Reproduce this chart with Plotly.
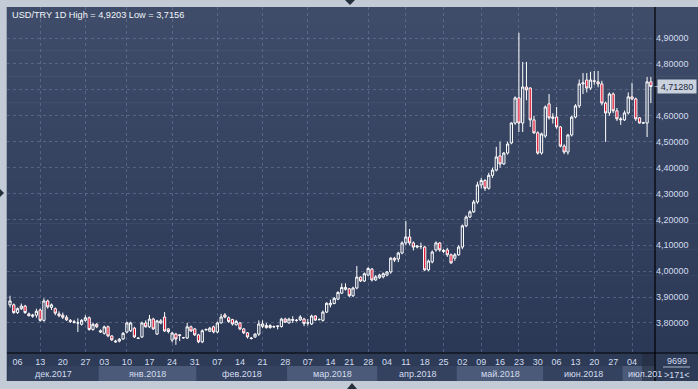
import plotly.graph_objects as go

# ---------------- data ----------------
opens = [3.870, 3.870, 3.840, 3.855, 3.865, 3.835, 3.826, 3.830, 3.850, 3.810,
         3.885, 3.860, 3.855, 3.835, 3.830, 3.822, 3.810, 3.805, 3.800, 3.795,
         3.810, 3.820, 3.775, 3.795, 3.770, 3.760, 3.785, 3.750, 3.730, 3.730,
         3.738, 3.765, 3.770, 3.780, 3.742, 3.746, 3.800, 3.785, 3.815, 3.757,
         3.800, 3.823, 3.777, 3.734, 3.757, 3.754, 3.743, 3.742, 3.785, 3.777,
         3.754, 3.727, 3.773, 3.768, 3.785, 3.765, 3.800, 3.831, 3.820, 3.813,
         3.793, 3.800, 3.777, 3.762, 3.742, 3.746, 3.757, 3.787, 3.790, 3.782,
         3.785, 3.787, 3.786, 3.815, 3.800, 3.810, 3.810, 3.812, 3.815, 3.800,
         3.796, 3.827, 3.813, 3.810, 3.842, 3.870, 3.875, 3.892, 3.915, 3.930,
         3.932, 3.905, 3.935, 3.977, 3.962, 3.985, 4.008, 3.966, 3.975, 3.978,
         3.985, 3.997, 4.050, 4.047, 4.070, 4.109, 4.132, 4.109, 4.093, 4.095,
         4.093, 4.005, 4.036, 4.082, 4.109, 4.076, 4.082, 4.063, 4.050, 4.063,
         4.093, 4.175, 4.209, 4.229, 4.267, 4.333, 4.350, 4.320, 4.370, 4.390,
         4.445, 4.414, 4.456, 4.495, 4.572, 4.669, 4.572, 4.711, 4.707, 4.584,
         4.534, 4.456, 4.522, 4.646, 4.590, 4.595, 4.557, 4.483, 4.460, 4.526,
         4.595, 4.638, 4.723, 4.738, 4.707, 4.735, 4.731, 4.723, 4.649, 4.611,
         4.684, 4.619, 4.588, 4.584, 4.611, 4.673, 4.665, 4.592, 4.573, 4.572,
         4.731]
highs = [3.905, 3.875, 3.860, 3.875, 3.870, 3.840, 3.835, 3.855, 3.855, 3.895,
         3.890, 3.875, 3.860, 3.845, 3.840, 3.830, 3.815, 3.812, 3.818, 3.815,
         3.830, 3.825, 3.800, 3.800, 3.775, 3.790, 3.790, 3.752, 3.735, 3.742,
         3.765, 3.805, 3.805, 3.785, 3.745, 3.805, 3.810, 3.831, 3.820, 3.812,
         3.815, 3.842, 3.780, 3.765, 3.762, 3.757, 3.746, 3.800, 3.790, 3.780,
         3.758, 3.775, 3.778, 3.785, 3.790, 3.805, 3.835, 3.838, 3.825, 3.816,
         3.812, 3.803, 3.780, 3.765, 3.746, 3.760, 3.810, 3.810, 3.800, 3.795,
         3.790, 3.790, 3.820, 3.820, 3.820, 3.826, 3.815, 3.830, 3.820, 3.815,
         3.832, 3.830, 3.818, 3.848, 3.880, 3.890, 3.900, 3.922, 3.953, 3.953,
         3.935, 3.940, 4.020, 3.980, 3.995, 4.015, 4.012, 3.985, 3.990, 3.995,
         4.000, 4.055, 4.055, 4.075, 4.115, 4.194, 4.163, 4.115, 4.100, 4.110,
         4.098, 4.045, 4.080, 4.115, 4.112, 4.085, 4.090, 4.068, 4.070, 4.100,
         4.180, 4.215, 4.235, 4.275, 4.345, 4.360, 4.355, 4.380, 4.400, 4.480,
         4.500, 4.460, 4.500, 4.575, 4.675, 4.9203, 4.808, 4.808, 4.710, 4.600,
         4.540, 4.535, 4.640, 4.684, 4.610, 4.634, 4.560, 4.490, 4.530, 4.600,
         4.645, 4.740, 4.765, 4.765, 4.770, 4.773, 4.773, 4.735, 4.655, 4.690,
         4.690, 4.630, 4.595, 4.620, 4.690, 4.727, 4.670, 4.595, 4.575, 4.750,
         4.750]
lows = [3.860, 3.835, 3.835, 3.850, 3.835, 3.825, 3.820, 3.820, 3.805, 3.805,
        3.855, 3.850, 3.830, 3.822, 3.815, 3.808, 3.800, 3.798, 3.765, 3.790,
        3.805, 3.770, 3.770, 3.780, 3.762, 3.755, 3.745, 3.730, 3.725, 3.725,
        3.735, 3.760, 3.765, 3.742, 3.738, 3.742, 3.782, 3.780, 3.773, 3.754,
        3.795, 3.765, 3.760, 3.725, 3.7156, 3.730, 3.740, 3.738, 3.765, 3.750,
        3.722, 3.722, 3.770, 3.765, 3.760, 3.760, 3.798, 3.818, 3.800, 3.790,
        3.790, 3.772, 3.757, 3.740, 3.736, 3.742, 3.750, 3.780, 3.778, 3.778,
        3.780, 3.775, 3.782, 3.800, 3.798, 3.800, 3.805, 3.808, 3.788, 3.790,
        3.792, 3.808, 3.810, 3.805, 3.838, 3.860, 3.872, 3.888, 3.912, 3.925,
        3.900, 3.900, 3.930, 3.958, 3.958, 3.980, 3.960, 3.962, 3.970, 3.972,
        3.980, 3.990, 4.035, 4.035, 4.065, 4.100, 4.100, 4.080, 4.088, 4.085,
        4.000, 4.000, 4.030, 4.075, 4.075, 4.070, 4.055, 4.028, 4.040, 4.060,
        4.085, 4.170, 4.205, 4.225, 4.260, 4.320, 4.310, 4.315, 4.360, 4.385,
        4.400, 4.410, 4.450, 4.490, 4.565, 4.537, 4.537, 4.660, 4.557, 4.530,
        4.450, 4.450, 4.515, 4.585, 4.570, 4.550, 4.478, 4.452, 4.450, 4.520,
        4.590, 4.630, 4.684, 4.690, 4.700, 4.720, 4.710, 4.640, 4.499, 4.600,
        4.610, 4.580, 4.565, 4.580, 4.605, 4.660, 4.580, 4.570, 4.570, 4.518,
        4.649]
closes = [3.885, 3.840, 3.855, 3.865, 3.840, 3.828, 3.830, 3.845, 3.810, 3.885,
          3.862, 3.870, 3.838, 3.828, 3.822, 3.812, 3.806, 3.802, 3.800, 3.810,
          3.820, 3.775, 3.795, 3.785, 3.765, 3.785, 3.750, 3.735, 3.727, 3.737,
          3.760, 3.800, 3.800, 3.746, 3.740, 3.800, 3.785, 3.815, 3.777, 3.808,
          3.808, 3.769, 3.767, 3.761, 3.738, 3.752, 3.743, 3.785, 3.769, 3.754,
          3.727, 3.770, 3.775, 3.780, 3.765, 3.800, 3.823, 3.823, 3.806, 3.796,
          3.806, 3.777, 3.762, 3.746, 3.740, 3.757, 3.796, 3.796, 3.782, 3.790,
          3.786, 3.788, 3.815, 3.803, 3.815, 3.813, 3.810, 3.823, 3.798, 3.800,
          3.827, 3.811, 3.813, 3.842, 3.876, 3.876, 3.895, 3.918, 3.937, 3.937,
          3.905, 3.935, 3.977, 3.962, 3.990, 4.010, 3.966, 3.978, 3.985, 3.990,
          3.997, 4.050, 4.043, 4.070, 4.109, 4.132, 4.109, 4.093, 4.097, 4.095,
          4.005, 4.039, 4.074, 4.109, 4.082, 4.080, 4.063, 4.032, 4.063, 4.093,
          4.175, 4.209, 4.229, 4.267, 4.333, 4.350, 4.320, 4.370, 4.390, 4.441,
          4.414, 4.456, 4.491, 4.572, 4.669, 4.572, 4.711, 4.700, 4.584, 4.534,
          4.456, 4.530, 4.634, 4.592, 4.595, 4.557, 4.483, 4.460, 4.526, 4.595,
          4.638, 4.723, 4.727, 4.707, 4.738, 4.733, 4.723, 4.649, 4.611, 4.684,
          4.619, 4.588, 4.585, 4.611, 4.673, 4.665, 4.588, 4.572, 4.572, 4.731,
          4.7128]
bar_index = list(range(len(closes)))

day_ticks = [2, 8, 14, 20, 25, 31, 37, 43, 49, 55, 61, 67, 73, 79, 85,
             90, 95, 100, 105, 110, 115, 120, 125, 130, 135, 140, 145, 150, 155, 160, 165]
day_labels = ["06", "13", "20", "27", "03", "10", "17", "24", "31", "07", "14", "21", "28",
              "07", "14", "21", "28", "04", "11", "18", "25", "02", "09", "16", "23", "30",
              "06", "13", "20", "27", "04"]
grid_ticks = [8, 20, 31, 43, 55, 67, 79, 95, 105, 115, 125, 135, 145, 155, 165]
month_labels = ["дек.2017", "янв.2018", "фев.2018", "мар.2018", "апр.2018",
                "май.2018", "июн.2018", "июл.201"]
month_start = [0, 24, 50, 74, 98, 119, 142, 163]
price_ticks = [3.8, 3.9, 4.0, 4.1, 4.2, 4.3, 4.4, 4.5, 4.6, 4.7, 4.8, 4.9]
last_price = closes[-1]
title_text = "USD/TRY 1D High = 4,9203 Low = 3,7156"


def fmt(v):
    return f"{v:.5f}".replace(".", ",")


# the 4,70000 label sits under the current-price box in the reference
price_text = ["" if abs(v - last_price) < 0.03 else fmt(v) for v in price_ticks]

# ---------------- layout geometry ----------------
W, H = 698, 389
L, R, T, B = 7, 655, 7, 353
XMIN, XMAX = -0.8, 171.1
YMIN, YMAX = 3.684, 5.020


def px(x):
    return (x - L) / (R - L)


def py(y):
    return (B - y) / (B - T)


def ix(i):  # bar index -> paper x
    return (i - XMIN) / (XMAX - XMIN)


FONT = "Liberation Sans, Arial, sans-serif"
TXT = "#d3ddef"

fig = go.Figure()
fig.add_trace(go.Candlestick(
    x=bar_index, open=opens, high=highs, low=lows, close=closes,
    increasing=dict(line=dict(color="#ffffff", width=1), fillcolor="rgba(0,0,0,0)"),
    decreasing=dict(line=dict(color="#ffffff", width=1), fillcolor="#e0102e"),
    whiskerwidth=0, showlegend=False, hoverinfo="skip",
))

shapes = []
# background gradient (plot + right axis panel)
top_c = (63, 76, 105)
bot_c = (43, 57, 86)
N = 40
for k in range(N):
    t = k / (N - 1)
    c = tuple(round(top_c[j] + (bot_c[j] - top_c[j]) * t) for j in range(3))
    y0 = T + k * (B - T) / N
    y1 = T + (k + 1) * (B - T) / N + 0.6
    shapes.append(dict(type="rect", xref="paper", yref="paper", layer="below",
                       x0=px(L), x1=px(W + 2), y0=py(y1), y1=py(y0),
                       fillcolor="rgb(%d,%d,%d)" % c, line=dict(width=0)))
# date panel rows
shapes.append(dict(type="rect", xref="paper", yref="paper", layer="below",
                   x0=px(L), x1=px(W + 2), y0=py(381), y1=py(B),
                   fillcolor="#2d3b57", line=dict(width=0)))
for m in range(len(month_start)):
    a = month_start[m] - 0.5
    b = (month_start[m + 1] - 0.5) if m + 1 < len(month_start) else XMAX
    col = "#34425f" if m % 2 == 0 else "#4b5a78"
    shapes.append(dict(type="rect", xref="paper", yref="paper", layer="below",
                       x0=max(ix(a), 0), x1=min(ix(b), 1), y0=py(381), y1=py(366),
                       fillcolor=col, line=dict(width=0)))
# dark block at the end of the date panel
shapes.append(dict(type="rect", xref="paper", yref="paper", layer="above",
                   x0=px(642), x1=px(R), y0=py(381), y1=py(B),
                   fillcolor="rgba(35,45,62,0.6)", line=dict(width=0)))
# axis frame lines
shapes.append(dict(type="line", xref="paper", yref="paper", x0=px(R), x1=px(R),
                   y0=py(381), y1=py(T), line=dict(color="#000000", width=1.2)))
shapes.append(dict(type="line", xref="paper", yref="paper", x0=px(L), x1=px(W + 2),
                   y0=py(B), y1=py(B), line=dict(color="#000000", width=1.2)))
# separator in corner panel
shapes.append(dict(type="line", xref="paper", yref="paper", x0=px(663), x1=px(690),
                   y0=py(367), y1=py(367), line=dict(color="#aab6ca", width=1)))
# left border line
shapes.append(dict(type="line", xref="paper", yref="paper", x0=px(L - 0.5), x1=px(L - 0.5),
                   y0=py(381), y1=py(T), line=dict(color="#9aa4b2", width=1)))
# small triangle markers on the frame
shapes.append(dict(type="path", xref="paper", yref="paper",
                   path="M %f %f L %f %f L %f %f Z" % (px(345), py(0), px(355), py(0), px(350), py(5)),
                   fillcolor="#25303f", line=dict(width=0)))
shapes.append(dict(type="path", xref="paper", yref="paper",
                   path="M %f %f L %f %f L %f %f Z" % (px(0), py(189), px(0), py(197), px(4), py(193)),
                   fillcolor="#25303f", line=dict(width=0)))
shapes.append(dict(type="path", xref="paper", yref="paper",
                   path="M %f %f L %f %f L %f %f Z" % (px(347), py(389), px(357), py(389), px(352), py(383)),
                   fillcolor="#25303f", line=dict(width=0)))
# pointer of the current price label
d = 6 / 259 * 0.1
shapes.append(dict(type="path", xref="paper", yref="y",
                   path="M %f %f L %f %f L %f %f Z" % (px(658), last_price + d, px(653.5), last_price,
                                                     px(658), last_price - d),
                   fillcolor="#c9d1dd", line=dict(width=0)))

annotations = [
    dict(xref="paper", yref="paper", x=px(10), y=py(15), xanchor="left", yanchor="middle",
         text=title_text, showarrow=False, font=dict(family=FONT, size=9.2, color="#f2f5fa")),
    dict(xref="paper", yref="y", x=px(676.5), y=last_price, xanchor="center", yanchor="middle",
         text=fmt(last_price), showarrow=False, bgcolor="#c9d1dd",
         width=36, height=11, borderpad=1,
         font=dict(family=FONT, size=9, color="#1e2940")),
    dict(xref="paper", yref="paper", x=px(676.5), y=py(361), xanchor="center", yanchor="middle",
         text="9699", showarrow=False, font=dict(family=FONT, size=9, color=TXT)),
    dict(xref="paper", yref="paper", x=px(676.5), y=py(375), xanchor="center", yanchor="middle",
         text=">171<", showarrow=False, font=dict(family=FONT, size=9, color=TXT)),
]
for m, lab in enumerate(month_labels):
    a = month_start[m] - 0.5
    if m + 1 < len(month_start):
        b = month_start[m + 1] - 0.5
        annotations.append(dict(xref="paper", yref="paper", x=(ix(a) + ix(b)) / 2, y=py(374),
                                xanchor="center", yanchor="middle", text=lab, showarrow=False,
                                font=dict(family=FONT, size=9, color=TXT)))
    else:
        annotations.append(dict(xref="paper", yref="paper", x=ix(a) + px(3) - px(0), y=py(374),
                                xanchor="left", yanchor="middle", text=lab, showarrow=False,
                                font=dict(family=FONT, size=9, color=TXT)))

fig.update_layout(
    width=W, height=H,
    margin=dict(l=L, r=W - R, t=T, b=H - B, pad=0),
    paper_bgcolor="#c3cbd6",
    plot_bgcolor="rgba(0,0,0,0)",
    separators=", ",
    boxgap=0.15,
    font=dict(family=FONT, size=9, color=TXT),
    shapes=shapes,
    annotations=annotations,
    xaxis=dict(
        range=[XMIN, XMAX], rangeslider=dict(visible=False),
        tickmode="array", tickvals=day_ticks, ticktext=day_labels,
        ticks="", showgrid=False, zeroline=False, showline=False,
        ticklabelstandoff=2,
        tickfont=dict(family=FONT, size=9, color=TXT),
        minor=dict(tickmode="array", tickvals=grid_ticks, showgrid=True,
                   gridcolor="rgba(125,140,170,0.45)", griddash="3px,3px", gridwidth=1, ticklen=0),
        fixedrange=True,
    ),
    yaxis=dict(
        range=[YMIN, YMAX], side="right", tickmode="array", tickvals=price_ticks,
        ticktext=price_text, ticks="", showgrid=True,
        gridcolor="rgba(125,140,170,0.45)", griddash="3px,3px", gridwidth=1,
        zeroline=False, showline=False,
        tickfont=dict(family=FONT, size=9, color=TXT),
        fixedrange=True,
    ),
)

fig.write_html("out.html", config={"displayModeBar": False},
               post_script="document.body.style.margin='0';document.body.style.overflow='hidden';")
